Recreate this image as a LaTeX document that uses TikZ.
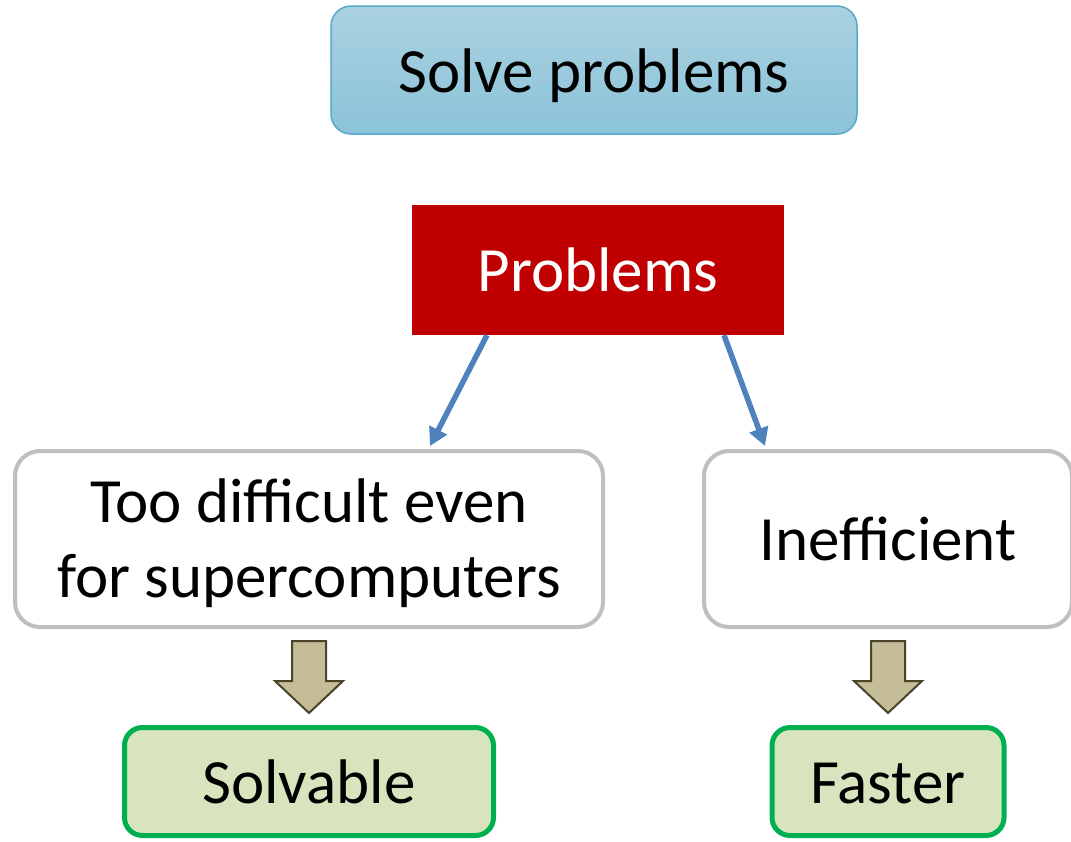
\documentclass[tikz,border=0pt]{standalone}
\usepackage{fontspec}
\setmainfont{Carlito}
\usetikzlibrary{positioning}
\usetikzlibrary{arrows.meta}
\usetikzlibrary{calc}
\definecolor{goaltop}{RGB}{170,209,225}
\definecolor{goalbottom}{RGB}{139,195,216}
\definecolor{goalline}{RGB}{88,170,200}
\definecolor{problemred}{RGB}{192,0,0}
\definecolor{causegray}{RGB}{191,191,191}
\definecolor{linkblue}{RGB}{79,129,189}
\definecolor{arrowfill}{RGB}{196,189,151}
\definecolor{arrowline}{RGB}{73,68,41}
\definecolor{resultline}{RGB}{0,176,80}
\definecolor{resultfill}{RGB}{215,228,189}
\tikzset{x=1pt, y=1pt, % one unit is one pixel of the picture
every node/.style={ % Sets the font for each box
inner sep=0pt,
font=\fontsize{63}{75}\selectfont},
goalbox/.style={ % The aim at the top
draw=goalline, line width=1.5pt,
rounded corners=20pt,
top color=goaltop, bottom color=goalbottom,
minimum width=526pt, minimum height=128pt,
text height=53pt, text depth=9pt},
problembox/.style={
fill=problemred, text=white,
minimum width=372pt, minimum height=130pt,
text height=53pt, text depth=9pt},
causebox/.style={ % Grey boxes under the problems
draw=causegray, line width=4pt,
rounded corners=25pt, fill=white,
minimum height=176pt, align=center},
resultbox/.style={ % Green boxes at the bottom
draw=resultline, line width=5pt,
rounded corners=18pt, fill=resultfill,
minimum height=108pt,
text height=53pt, text depth=9pt},
link/.style={ % Blue arrows
draw=linkblue, line width=5.5pt,
-{Triangle[length=18pt,width=19pt]}},
blockarrow/.style={ % Fat olive arrows
draw=arrowline, line width=2pt,
fill=arrowfill, line join=miter}}

\begin{document}
\begin{tikzpicture}
	\useasboundingbox (0,0) rectangle (1071,-841);

	\node[goalbox] (solve) at (594,-70) {Solve problems};
	\node[problembox, below=70pt of solve, xshift=4pt] (problems) {Problems};

	\node[causebox, minimum width=588pt] (difficult) at (309,-539) {\rule{0pt}{52pt}Too difficult even\\for supercomputers};
	\node[causebox, minimum width=368pt, right=97pt of difficult] (inefficient) {Inefficient};

	\node[resultbox, minimum width=369pt, below=96pt of difficult] (solvable) {Solvable};
	\node[resultbox, minimum width=232pt, below=96pt of inefficient] (faster) {Faster};

	\draw[link] ([xshift=-111pt]problems.south) -- ([xshift=121pt,yshift=3pt]difficult.north);
	\draw[link] ([xshift=126pt]problems.south) -- ([xshift=-123pt,yshift=3pt]inefficient.north);

	% \draw[link] (problems) -- (solve);
	\foreach \cause/\result in {difficult/solvable, inefficient/faster}
		\draw[blockarrow] let \p1=($(\cause.south)+(0,-12)$), \p2=($(\result.north)+(0,12)$) in
			(\x1-17,\y1) -- (\x1+17,\y1) -- (\x1+17,\y2+32) -- (\x1+34,\y2+32)
			-- (\x1,\y2) -- (\x1-34,\y2+32) -- (\x1-17,\y2+32) -- cycle;
\end{tikzpicture}
\end{document}
